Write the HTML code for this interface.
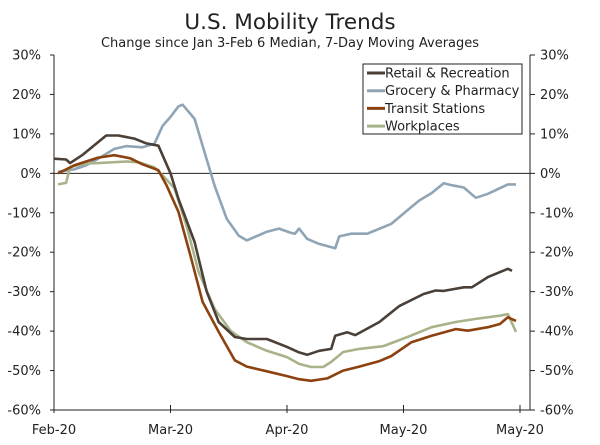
<!DOCTYPE html>
<html><head><meta charset="utf-8"><style>
body{margin:0;background:#fff}
svg text{font-family:"DejaVu Sans","Liberation Sans",sans-serif;fill:#222}
</style></head><body>
<svg id="chart" width="600" height="440">
<text x="290" y="29" text-anchor="middle" font-size="21.5">U.S. Mobility Trends</text>
<text x="290" y="47" text-anchor="middle" font-size="13">Change since Jan 3-Feb 6 Median, 7-Day Moving Averages</text>
<g id="axes"></g>
<g id="series"></g>
<g>
<rect x="363" y="64" width="159" height="70" fill="#fff" stroke="#222" stroke-width="1"/>
<g id="legend"></g>
</g>
</svg>
<script>
const yTicks=[30,20,10,0,-10,-20,-30,-40,-50,-60];
const xTickDays=[0,29,58,87,116];
const xTickLabels=["Feb-20","Mar-20","Apr-20","May-20","May-20"];
const seriesNames=["Retail & Recreation","Grocery & Pharmacy","Transit Stations","Workplaces"];
const seriesColors=["#4b4038","#8fa5b6","#8c420f","#a8b38a"];
const retailDays=[0,3,4,7,13,16,20,23,26,29,31,35,38,41,45,48,53,58,61,63,66,69,70,73,75,81,86,92,95,97,102,104,108,113,114];
const retailVals=[3.7,3.5,2.6,4.6,9.6,9.6,8.8,7.6,7,0,-6.5,-17.4,-30,-37.7,-41.5,-42,-42,-44,-45.4,-46,-45,-44.5,-41.2,-40.3,-41,-37.7,-33.6,-30.6,-29.7,-29.8,-28.9,-28.9,-26.3,-24.2,-24.7];
const groceryDays=[1,5,8,11,15,18,22,25,27,29,31,32,35,37,40,43,46,48,53,56,59,60,61,63,66,70,71,74,78,84,89,91,94,97,99,102,105,108,113,115];
const groceryVals=[0.4,1,2,3.7,6.2,6.9,6.6,7.5,12,14.3,17,17.4,13.8,7,-3.2,-11.5,-15.8,-17,-14.8,-14,-15.1,-15.3,-14,-16.6,-17.9,-19,-16,-15.3,-15.3,-12.8,-8.5,-6.8,-5,-2.5,-3,-3.6,-6.2,-5.2,-2.8,-2.8];
const transitDays=[1,3,5,8,11,15,19,22,26,28,31,34,37,41,45,48,53,58,61,64,68,72,76,81,84,89,94,100,103,108,111,113,115];
const transitVals=[0,1,2,3,4,4.6,3.8,2.3,0.8,-3,-9.8,-21,-32.6,-40.2,-47.4,-49,-50.2,-51.4,-52.2,-52.6,-52,-50,-49,-47.6,-46.3,-42.8,-41.2,-39.5,-39.9,-39,-38.2,-36.5,-37.4];
const workDays=[1,3,4,8,11,18,21,25,27,30,33,36,40,44,48,53,58,61,64,67,69,72,76,82,88,94,100,105,111,113,115];
const workVals=[-2.8,-2.4,1.6,2.5,2.6,3,2.8,1.5,-0.5,-3.8,-13.3,-25,-34.4,-40,-42.8,-45,-46.6,-48.3,-49.1,-49.1,-47.8,-45.3,-44.5,-43.8,-41.5,-39,-37.7,-36.9,-36.1,-35.7,-40.2];

const X0=54,X1=520,Y0=55,Y1=410;
const xs=d=>X0+(X1-X0)*d/116;
const ys=v=>Y0+(Y1-Y0)*(30-v)/90;
const NS="http://www.w3.org/2000/svg";
function mk(tag,attrs,parent){const e=document.createElementNS(NS,tag);for(const k in attrs)e.setAttribute(k,attrs[k]);parent.appendChild(e);return e;}
const axes=document.getElementById('axes');
let e;
e=mk('line',{x1:X0,y1:Y0,x2:X0,y2:Y1,stroke:'#222'},axes);


e=mk('line',{x1:530,y1:Y0,x2:530,y2:Y1,stroke:'#222'},axes);


e=mk('line',{x1:X0,y1:Y1,x2:530,y2:Y1,stroke:'#222'},axes);


e=mk('line',{x1:X0,y1:ys(0),x2:530,y2:ys(0),stroke:'#222'},axes);


yTicks.forEach(v=>{
  const y=ys(v);
  mk('line',{x1:X0-4,y1:y,x2:X0,y2:y,stroke:'#222'},axes);
  mk('line',{x1:530,y1:y,x2:535,y2:y,stroke:'#222'},axes);
  e=mk('text',{x:41,y:y+4.5,'text-anchor':'end','font-size':13},axes);
  e.textContent=v+'%';
  
  
  e=mk('text',{x:540,y:y+4.5,'font-size':13},axes);
  e.textContent=v+'%';
  
  
});
xTickDays.forEach((d,i)=>{
  const x=xs(d);
  mk('line',{x1:x,y1:Y1-5,x2:x,y2:Y1+3,stroke:'#222'},axes);
  e=mk('text',{x:x,y:434,'text-anchor':'middle','font-size':13},axes);
  e.textContent=xTickLabels[i];
  
  
});
const sg=document.getElementById('series');
const all=[[retailDays,retailVals],[groceryDays,groceryVals],[transitDays,transitVals],[workDays,workVals]];
const order=[1,3,0,2];
order.forEach(i=>{
  const [d,v]=all[i];
  const pts=d.map((dd,j)=>xs(dd).toFixed(1)+','+ys(v[j]).toFixed(1)).join(' ');
  e=mk('polyline',{points:pts,fill:'none',stroke:seriesColors[i],'stroke-width':2.6,'stroke-linejoin':'round'},sg);
  
  
});
const lg=document.getElementById('legend');
seriesNames.forEach((n,i)=>{
  const y=73+i*17.7;
  mk('line',{x1:367,y1:y,x2:385,y2:y,stroke:seriesColors[i],'stroke-width':3},lg);
  e=mk('text',{x:385,y:y+4.5,'font-size':13},lg);
  e.textContent=n;
  
  
});
</script>
</body></html>
